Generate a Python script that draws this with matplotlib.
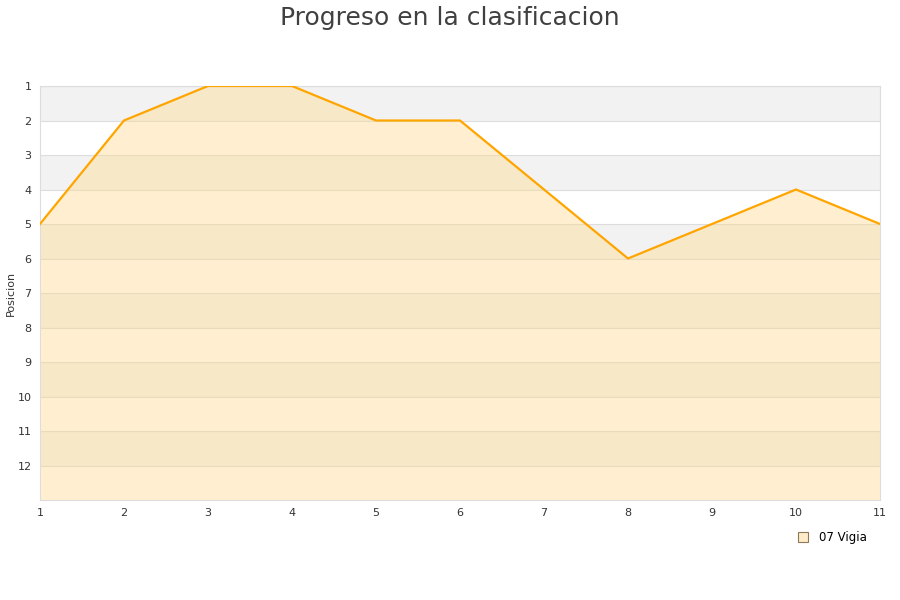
import matplotlib
matplotlib.use("Agg")
import matplotlib.pyplot as plt
from matplotlib.lines import Line2D

jornadas = [1, 2, 3, 4, 5, 6, 7, 8, 9, 10, 11]
posiciones = [5, 2, 1, 1, 2, 2, 4, 6, 5, 4, 5]
equipo = "07 Vigia"
y_ticks = list(range(1, 13))

fig = plt.figure(figsize=(9, 6), dpi=100)
ax = fig.add_axes([40/900, 1-500/600, 840/900, 414/600])

ax.set_xlim(1, 11)
ax.set_ylim(13, 1)

# alternating bands
for b in range(1, 13, 2):
    ax.axhspan(b, b+1, color="#f2f2f2", zorder=0, lw=0)
for t in y_ticks:
    ax.axhline(t, color="#dddddd", lw=0.8, zorder=1)

ax.fill_between(jornadas, posiciones, 13, color="#ffd98a", alpha=0.4, lw=0, zorder=2)
ax.plot(jornadas, posiciones, color="#ffa500", lw=1.6, zorder=3)

ax.set_yticks(y_ticks)
ax.set_xticks(jornadas)
ax.tick_params(axis="both", length=0, labelsize=8, colors="#333333", pad=6)
for s in ax.spines.values():
    s.set_color("#dddddd")

fig.text(11/900, 1-293/600, "Posicion", rotation=90, ha="center", va="center",
         fontsize=8, color="#333333")
fig.text(0.5, 1-18/600, "Progreso en la clasificacion", ha="center", va="center",
         fontsize=18, color="#404040")

handle = Line2D([], [], marker="s", linestyle="none", markersize=7,
                markerfacecolor="#ffebc8", markeredgecolor="#8a7a5a", markeredgewidth=0.8)
fig.legend([handle], [equipo], loc="center", bbox_to_anchor=(829/900, 1-538/600),
           frameon=False, fontsize=8.5, handletextpad=0.3)

fig.savefig("out.png", dpi=100)
